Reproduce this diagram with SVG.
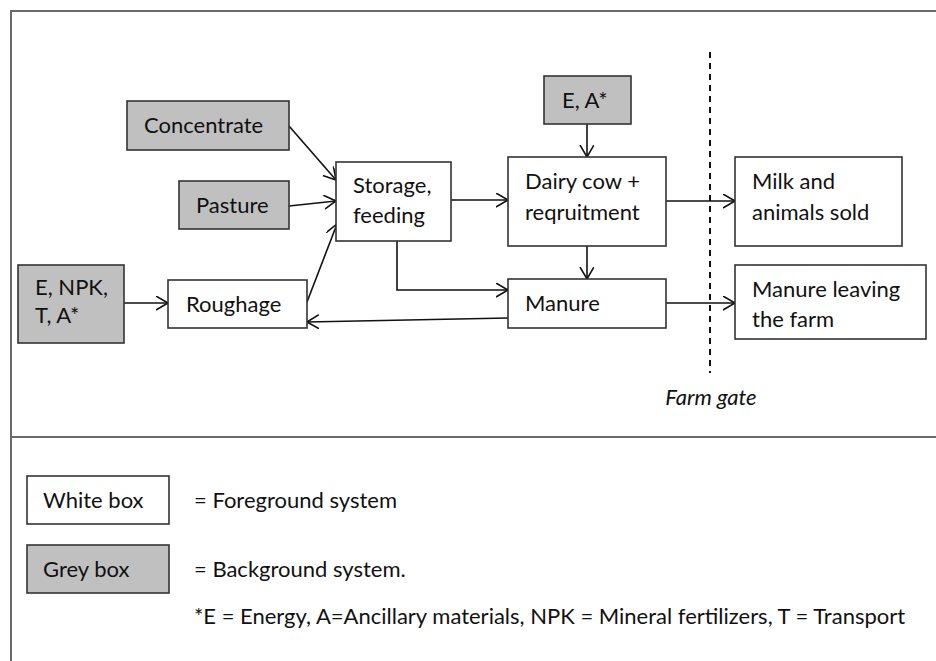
<svg xmlns="http://www.w3.org/2000/svg" width="936" height="661" viewBox="0 0 936 661">
<defs>
<marker id="arr" markerWidth="14" markerHeight="16" refX="12" refY="7" orient="auto" markerUnits="userSpaceOnUse">
<path d="M0,0 L12,7 L0,14" fill="none" stroke="#111" stroke-width="1.6"/>
</marker>
<style>
.bw{fill:#fff;stroke:#333;stroke-width:1.6}
.bg{fill:#c0c0c0;stroke:#333;stroke-width:1.6}
text{font-family:Lato,"Liberation Sans",sans-serif;font-size:22px;fill:#111}
.c{fill:none;stroke:#111;stroke-width:1.6;marker-end:url(#arr)}
.frame{fill:none;stroke:#6a6a6a;stroke-width:2}
</style>
</defs>
<rect width="936" height="661" fill="#fff"/>
<g id="frame">
<path class="frame" d="M936,11 H11 V661"/>
<path class="frame" d="M11,437 H936"/>
</g>
<g id="farmgate">
<line x1="710" y1="52" x2="710" y2="373" stroke="#111" stroke-width="2" stroke-dasharray="6 5"/>
<text x="711" y="405" text-anchor="middle" font-style="italic">Farm gate</text>
</g>
<g id="connectors">
<path class="c" d="M289,126 L336,180"/>
<path class="c" d="M289,206 L336,201"/>
<path class="c" d="M307,302 L337,224"/>
<path class="c" d="M124,303 H168"/>
<path class="c" d="M451,200 H508"/>
<path class="c" d="M587,124 V157"/>
<path class="c" d="M666,201 H735"/>
<path class="c" d="M587,246 V279"/>
<path class="c" d="M397,241 V290 H508"/>
<path class="c" d="M666,303 H735"/>
<path class="c" d="M508,318 L307,322"/>
</g>
<g id="concentrate">
<rect class="bg" x="127" y="101" width="162" height="49"/>
<text x="144" y="133">Concentrate</text>
</g>
<g id="pasture">
<rect class="bg" x="179" y="181" width="110" height="48"/>
<text x="196" y="213">Pasture</text>
</g>
<g id="storage">
<rect class="bw" x="336" y="162" width="115" height="79"/>
<text x="353" y="193">Storage,</text>
<text x="353" y="223">feeding</text>
</g>
<g id="ea">
<rect class="bg" x="544" y="76" width="87" height="48"/>
<text x="562" y="108">E, A*</text>
</g>
<g id="dairy">
<rect class="bw" x="508" y="157" width="158" height="89"/>
<text x="525" y="189">Dairy cow +</text>
<text x="525" y="220">reqruitment</text>
</g>
<g id="milk">
<rect class="bw" x="735" y="157" width="167" height="89"/>
<text x="752" y="189">Milk and</text>
<text x="752" y="220">animals sold</text>
</g>
<g id="manure">
<rect class="bw" x="508" y="279" width="158" height="49"/>
<text x="525" y="311">Manure</text>
</g>
<g id="manureleaving">
<rect class="bw" x="735" y="265" width="191" height="74"/>
<text x="752" y="297">Manure leaving</text>
<text x="752" y="327">the farm</text>
</g>
<g id="enpk">
<rect class="bg" x="18" y="265" width="106" height="78"/>
<text x="35" y="295">E, NPK,</text>
<text x="35" y="323">T, A*</text>
</g>
<g id="roughage">
<rect class="bw" x="168" y="280" width="139" height="48"/>
<text x="186" y="312">Roughage</text>
</g>
<g id="legend">
<rect class="bw" x="27" y="476" width="142" height="48"/>
<text x="43" y="508">White box</text>
<rect class="bg" x="27" y="545" width="142" height="48"/>
<text x="43" y="577">Grey box</text>
<text x="194" y="508">= Foreground system</text>
<text x="194" y="577">= Background system.</text>
<text x="194" y="624">*E = Energy, A=Ancillary materials, NPK = Mineral fertilizers, T = Transport</text>
</g>
</svg>
